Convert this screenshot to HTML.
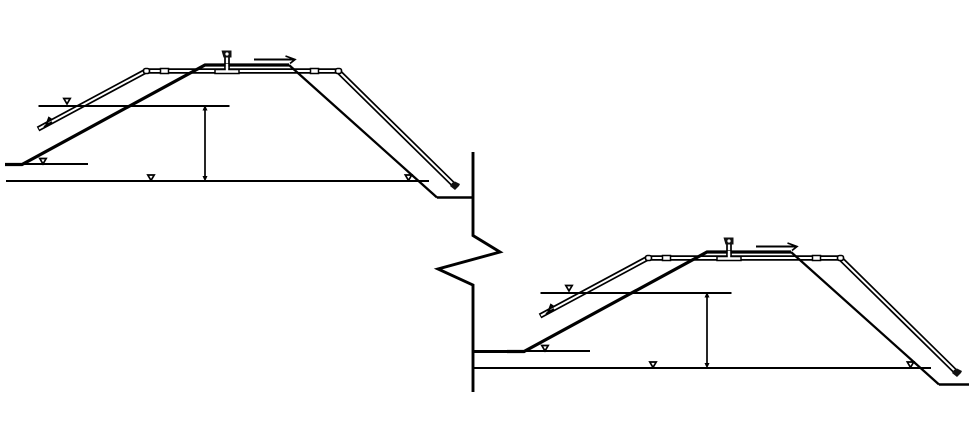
<!DOCTYPE html>
<html>
<head>
<meta charset="utf-8">
<style>
html,body{margin:0;padding:0;background:#fff;}
svg{display:block;}
</style>
</head>
<body>
<svg width="975" height="443" viewBox="0 0 975 443" xmlns="http://www.w3.org/2000/svg">
<defs>
  <g id="tri">
    <path d="M-3.2,-3 H3.2 L0,2.4 Z" fill="#fff" stroke="#000" stroke-width="1.7"/>
  </g>
  <g id="unit" fill="none" stroke="#000" stroke-linejoin="miter">
    <!-- pipe -->
    <path d="M38,129 L146,71 H338 L455,186" stroke-width="5.4"/>
    <path d="M39,128.5 L146,71 H338 L454,185" stroke="#fff" stroke-width="2"/>
    <!-- pipe fittings -->
    <rect x="143.5" y="68.5" width="6" height="5" rx="2" fill="#fff" stroke-width="1.6"/>
    <rect x="335.5" y="68.5" width="6" height="5" rx="2" fill="#fff" stroke-width="1.6"/>
    <rect x="160.5" y="68.5" width="8" height="5" fill="#fff" stroke-width="1.5"/>
    <rect x="310.5" y="68.5" width="8" height="5" fill="#fff" stroke-width="1.5"/>
    <!-- levels -->
    <path d="M38.5,106 H229.5" stroke-width="2"/>
    <path d="M22,164 H88" stroke-width="2"/>
    <path d="M6,181 H429" stroke-width="2"/>
    <!-- embankment -->
    <path d="M5,164.5 H22 L205,65 H289" stroke-width="3.2"/>
    <path d="M289,65 L437,197.5" stroke-width="2.3"/>
    <rect x="215" y="69.5" width="24" height="4" fill="#fff" stroke-width="1.5"/>
    <!-- dimension -->
    <path d="M205,108 V179" stroke-width="1.7"/>
    <path d="M205,105 L202.5,110.5 H207.5 Z M205,181.5 L202.5,176 H207.5 Z" fill="#000" stroke="none"/>
    <!-- triangles -->
    <use href="#tri" x="67" y="101.5"/>
    <use href="#tri" x="43" y="161.5"/>
    <use href="#tri" x="151" y="178"/>
    <use href="#tri" x="408.5" y="178"/>
    <!-- riser & valve -->
    <path d="M225,57 V69 M229,57 V69" stroke-width="1.7"/>
    <path d="M225.8,64 V71 H228.2 V64 Z" fill="#fff" stroke="none"/>
    <path d="M221.5,50.5 H231.5 V57.5 H223.5 Z" fill="#111" stroke="none"/>
    <circle cx="227" cy="54" r="1.6" fill="#fff" stroke="none"/>
    <!-- flow arrow -->
    <path d="M254,59.5 H294" stroke-width="2"/>
    <path d="M285.5,56 L295,59.5 L290,63.5" stroke-width="1.7"/>
    <!-- sprinkler left -->
    <path d="M44,127 L52,122 M46,126 L49,118 L52,120" stroke-width="2.2"/>
    <!-- sprinkler right -->
    <path d="M455,181.5 L460,184 L459,186 L455,190 L450,186 L452,183 Z" fill="#111" stroke="none"/>
  </g>
</defs>
<rect width="975" height="443" fill="#fff"/>
<use href="#unit"/>
<use href="#unit" transform="translate(502,187)"/>
<g fill="none" stroke="#000">
  <path d="M437,197.5 H473" stroke-width="2.6"/>
  <path d="M473,152 V235.5 L500,252 L438,269 L473,285 V392" stroke-width="2.9"/>
  <path d="M473,351.5 H525" stroke-width="3"/>
  <path d="M473,368 H510" stroke-width="2"/>
  <path d="M939,384.5 H969" stroke-width="2.6"/>
</g>
</svg>
</body>
</html>
